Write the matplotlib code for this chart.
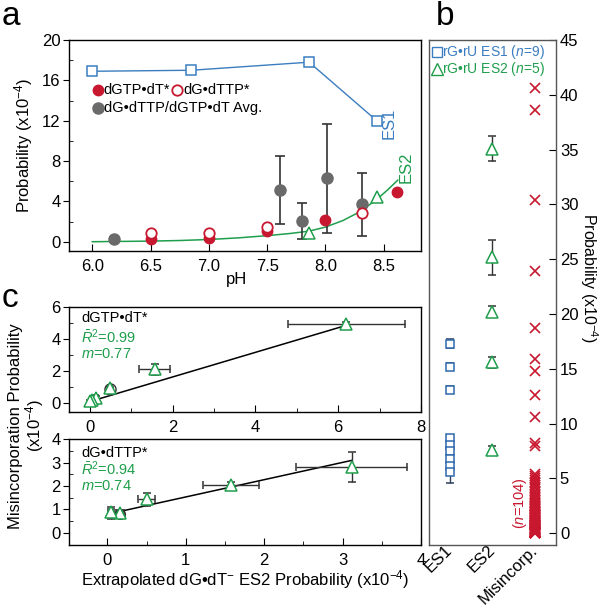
import matplotlib
matplotlib.use("Agg")
import matplotlib.pyplot as plt
import numpy as np

plt.rcParams['font.family'] = ['Liberation Sans', 'DejaVu Sans']
plt.rcParams['mathtext.fontset'] = 'custom'
plt.rcParams['mathtext.rm'] = 'Liberation Sans'
plt.rcParams['mathtext.it'] = 'Liberation Sans:italic'
plt.rcParams['mathtext.bf'] = 'Liberation Sans:bold'
plt.rcParams['axes.linewidth'] = 1.0

BLUE = '#3b7dc0'
GREEN = '#1f9e4c'
RED = '#c8182f'
GREY = '#6a6a6a'
DARK = '#333333'

# ---------------- panel a data ----------------
es1_ph = [6.0, 6.85, 7.86, 8.44]
es1_p = [16.9, 17.0, 17.8, 12.0]
es2_ph = [7.86, 8.44]
es2_p = [0.9, 4.4]
curve_ph = [6.0, 6.25, 6.5, 6.75, 7.0, 7.25, 7.5, 7.7, 7.86, 8.0, 8.15, 8.3, 8.44, 8.53, 8.62]
curve_p = [0.0, 0.03, 0.06, 0.12, 0.22, 0.38, 0.6, 0.82, 1.05, 1.45, 2.1, 3.0, 4.2, 5.1, 6.1]
dgtp_ph = [6.5, 7.0, 7.5, 8.0, 8.61]
dgtp_p = [0.24, 0.37, 1.06, 2.15, 4.9]
dttp_ph = [6.5, 7.0, 7.5, 8.31]
dttp_p = [0.9, 0.83, 1.43, 2.85]
avg_ph = [6.19, 7.61, 7.80, 8.01, 8.31]
avg_p = [0.24, 5.1, 2.05, 6.3, 3.7]
avg_lo = [0.0, 1.75, 0.27, 0.9, 0.6]
avg_hi = [0.45, 8.5, 3.8, 11.7, 6.8]

# ---------------- panel b data ----------------
b_es1 = [17.3, 15.2, 13.1, 8.7, 8.1, 7.5, 6.8, 6.1, 5.6]
b_es1_err = [0.4, 0.3, 0.3, 0.3, 0.4, 0.4, 0.4, 0.4, 1.0]
b_es2 = [35.1, 25.2, 20.2, 15.6, 7.6]
b_es2_err = [1.1, 1.6, 0.5, 0.5, 0.4]
b_mis = [40.6, 38.6, 30.4, 23.9, 18.7, 15.9, 14.8, 12.6, 10.6, 8.2, 8.0,
         5.4, 5.2, 5.0, 4.9, 4.7, 4.6, 4.4, 4.2, 4.1, 3.9, 3.8, 3.6, 3.5, 3.3,
         3.2, 3.1, 3.0, 2.9, 2.8, 2.7, 2.6, 2.5, 2.45, 2.4, 2.3, 2.25, 2.2, 2.1,
         2.05, 2.0, 1.95, 1.9, 1.85, 1.8, 1.75, 1.7, 1.65, 1.6, 1.55, 1.5, 1.45,
         1.4, 1.35, 1.3, 1.25, 1.2, 1.15, 1.1, 1.05, 1.0, 0.95, 0.9, 0.85, 0.8,
         0.78, 0.75, 0.72, 0.7, 0.65, 0.62, 0.6, 0.55, 0.52, 0.5, 0.48, 0.45,
         0.42, 0.4, 0.38, 0.35, 0.32, 0.3, 0.28, 0.25, 0.22, 0.2, 0.18, 0.16,
         0.15, 0.13, 0.12, 0.1, 0.09, 0.08, 0.07, 0.06, 0.05, 0.04, 0.03, 0.03,
         0.02, 0.02, 0.01]
b_cats = ['ES1', 'ES2', 'Misincorp.']

# ---------------- panel c data ----------------
c1_x = [6.2, 1.57, 0.5, 0.15, 0.05, 0.0]
c1_y = [4.95, 2.14, 0.94, 0.3, 0.2, 0.12]
c1_xerr = [[1.4, 0.37, 0.05, 0.05, 0.04, 0.0], [1.42, 0.37, 0.05, 0.05, 0.04, 0.02]]
c1_yerr = [[0.2, 0.4, 0.1, 0.15, 0.15, 0.1], [0.15, 0.3, 0.1, 0.15, 0.15, 0.1]]
c1_fit = [0.77, 0.1]
c1_fit_x = [0.0, 6.2]
c2_x = [3.12, 1.58, 0.5, 0.16, 0.05]
c2_y = [2.8, 2.05, 1.43, 0.83, 0.88]
c2_xerr = [[0.71, 0.36, 0.11, 0.05, 0.04], [0.7, 0.35, 0.11, 0.05, 0.04]]
c2_yerr = [[0.65, 0.1, 0.28, 0.2, 0.28], [0.67, 0.1, 0.26, 0.15, 0.22]]
c2_fit = [0.74, 0.79]
c2_fit_x = [0.1, 3.12]

fig = plt.figure(figsize=(6.0, 6.07), dpi=100)

FS = 12

# ================= panel a =================
axa = fig.add_axes([0.115, 0.5865, 0.5867, 0.3476])
axa.plot(curve_ph, curve_p, color=GREEN, lw=1.1, zorder=2)
axa.plot(es1_ph, es1_p, color=BLUE, lw=1.0, marker='s', ms=7, mfc='white', mec=BLUE, mew=1.1, zorder=3)
axa.plot(es2_ph, es2_p, ls='none', marker='^', ms=9, mfc='white', mec=GREEN, mew=1.1, zorder=5)
avg_err = [np.array(avg_p) - np.array(avg_lo), np.array(avg_hi) - np.array(avg_p)]
axa.errorbar(avg_ph, avg_p, yerr=avg_err, fmt='o', ms=8, color=GREY, ecolor=DARK, elinewidth=1.2, capsize=3.5, capthick=1.2, zorder=3)
axa.plot(dgtp_ph, dgtp_p, ls='none', marker='o', ms=7.5, color=RED, zorder=4)
axa.plot(dttp_ph, dttp_p, ls='none', marker='o', ms=7.5, mfc='white', mec=RED, mew=1.3, zorder=4)
axa.set_xlim(5.8, 8.82)
axa.set_ylim(-0.92, 20)
axa.set_xticks([6.0, 6.5, 7.0, 7.5, 8.0, 8.5])
axa.set_xticklabels(['6.0', '6.5', '7.0', '7.5', '8.0', '8.5'])
axa.set_yticks([0, 4, 8, 12, 16, 20])
axa.set_yticks([2, 6, 10, 14, 18], minor=True)
axa.tick_params(axis='x', direction='in', length=5, labelsize=FS, pad=6)
axa.tick_params(axis='y', which='major', direction='out', length=4, labelsize=FS, pad=2)
axa.tick_params(axis='y', which='minor', direction='in', length=3)
axa.set_xlabel('pH', fontsize=FS, labelpad=-2, x=0.477)
axa.set_ylabel('Probability (x10$^{-4}$)', fontsize=FS, labelpad=5)
axa.text(8.55, 11.75, 'ES1', color=BLUE, rotation=90, ha='center', va='center', fontsize=FS)
axa.text(8.69, 7.4, 'ES2', color=GREEN, rotation=90, ha='center', va='center', fontsize=FS)
# legend
axa.plot([0.083], [0.763], 'o', ms=7.5, color=RED, transform=axa.transAxes, clip_on=False)
axa.text(0.099, 0.763, 'dGTP•dT*', transform=axa.transAxes, ha='left', va='center', fontsize=10.5)
axa.plot([0.308], [0.763], 'o', ms=7.5, mfc='white', mec=RED, mew=1.3, transform=axa.transAxes, clip_on=False)
axa.text(0.324, 0.763, 'dG•dTTP*', transform=axa.transAxes, ha='left', va='center', fontsize=10.5)
axa.plot([0.083], [0.676], 'o', ms=8, color=GREY, transform=axa.transAxes, clip_on=False)
axa.text(0.099, 0.676, 'dG•dTTP/dGTP•dT Avg.', transform=axa.transAxes, ha='left', va='center', fontsize=10.5)

# ================= panel b =================
axb = fig.add_axes([0.715, 0.1021, 0.2112, 0.832])
for s in axb.spines.values():
    s.set_color('#555555')
axb.errorbar(np.full(len(b_es1), 1.0), b_es1, yerr=b_es1_err, fmt='s', ms=6, mfc='white', mec='#2f6aad', mew=1.1,
             ecolor='#2b3f5c', elinewidth=1.0, capsize=3, zorder=3)
axb.errorbar(np.full(len(b_es2), 2.0), b_es2, yerr=b_es2_err, fmt='^', ms=9, mfc='white', mec=GREEN, mew=1.1,
             ecolor=DARK, elinewidth=1.0, capsize=3, zorder=3)
axb.plot(np.full(len(b_mis), 3.0), b_mis, ls='none', marker='x', ms=7.5, mew=1.2, color=RED, zorder=3)
axb.set_xlim(0.5, 3.5)
axb.set_ylim(-1.07, 45)
axb.set_xticks([1, 2, 3])
axb.set_xticklabels(b_cats, rotation=45, ha='right', va='center', rotation_mode='anchor', fontsize=FS)
axb.tick_params(axis='x', length=0, pad=2)
axb.yaxis.tick_right()
axb.set_yticks([0, 5, 10, 15, 20, 25, 30, 35, 40, 45])
axb.tick_params(axis='y', direction='in', length=5, labelsize=FS, pad=3)
fig.text(0.982, 1 - 278 / 607, 'Probability (x10$^{-4}$)', fontsize=11.5, rotation=270, ha='center', va='center')
axb.text(2.66, 2.8, '($n$=104)', color=RED, rotation=90, ha='center', va='center', fontsize=10.5)
axb.plot([0.063], [0.977], 's', ms=6.5, mfc='white', mec=BLUE, mew=1.0, transform=axb.transAxes, clip_on=False)
axb.text(0.105, 0.977, 'rG•rU ES1 ($n$=9)', color=BLUE, transform=axb.transAxes, ha='left', va='center', fontsize=10)
axb.plot([0.063], [0.942], '^', ms=8.5, mfc='white', mec=GREEN, mew=1.0, transform=axb.transAxes, clip_on=False)
axb.text(0.105, 0.942, 'rG•rU ES2 ($n$=5)', color=GREEN, transform=axb.transAxes, ha='left', va='center', fontsize=10)

# ================= panel c (top) =================
axc1 = fig.add_axes([0.115, 0.3218, 0.5867, 0.1730])
fx = np.array(c1_fit_x)
axc1.plot(fx, c1_fit[0] * fx + c1_fit[1], color='black', lw=1.1, zorder=2)
axc1.errorbar(c1_x, c1_y, xerr=c1_xerr, yerr=c1_yerr, fmt='^', ms=9, mfc='white', mec=GREEN, mew=1.1,
              ecolor=DARK, elinewidth=1.0, capsize=3, zorder=3)
axc1.plot([0.5], [0.9], 'o', ms=8, mfc='none', mec=DARK, mew=1.0, zorder=3)
axc1.set_xlim(-0.5, 8)
axc1.set_ylim(-0.53, 6.04)
axc1.set_xticks([0, 2, 4, 6, 8])
axc1.set_xticks([1, 3, 5, 7], minor=True)
axc1.set_yticks([0, 2, 4, 6])
axc1.set_yticks([1, 3, 5], minor=True)
axc1.tick_params(axis='x', which='both', direction='in', labelsize=FS, pad=6)
axc1.tick_params(axis='x', which='major', length=5)
axc1.tick_params(axis='x', which='minor', length=3)
axc1.tick_params(axis='y', which='major', direction='out', length=4, labelsize=FS, pad=2)
axc1.tick_params(axis='y', which='minor', direction='in', length=3)
axc1.text(0.035, 0.89, 'dGTP•dT*', transform=axc1.transAxes, fontsize=10.5, ha='left', va='center')
axc1.text(0.035, 0.71, r'$\bar{R}^{2}$=0.99', transform=axc1.transAxes, fontsize=10.5, color=GREEN, ha='left', va='center')
axc1.text(0.035, 0.55, '$m$=0.77', transform=axc1.transAxes, fontsize=10.5, color=GREEN, ha='left', va='center')

# ================= panel c (bottom) =================
axc2 = fig.add_axes([0.115, 0.1021, 0.5867, 0.1742])
fx = np.array(c2_fit_x)
axc2.plot(fx, c2_fit[0] * fx + c2_fit[1], color='black', lw=1.1, zorder=2)
axc2.errorbar(c2_x, c2_y, xerr=c2_xerr, yerr=c2_yerr, fmt='^', ms=9, mfc='white', mec=GREEN, mew=1.1,
              ecolor=DARK, elinewidth=1.0, capsize=3, zorder=3)
axc2.plot([0.16], [0.8], 'o', ms=7, mfc='none', mec=DARK, mew=1.0, zorder=3)
axc2.set_xlim(-0.49, 4)
axc2.set_ylim(-0.53, 4)
axc2.set_xticks([0, 1, 2, 3, 4])
axc2.set_xticks([0.5, 1.5, 2.5, 3.5], minor=True)
axc2.set_yticks([0, 1, 2, 3, 4])
axc2.set_yticks([0.5, 1.5, 2.5, 3.5], minor=True)
axc2.tick_params(axis='x', which='both', direction='in', labelsize=FS, pad=6)
axc2.tick_params(axis='x', which='major', length=5)
axc2.tick_params(axis='x', which='minor', length=3)
axc2.tick_params(axis='y', which='major', direction='out', length=4, labelsize=FS, pad=2)
axc2.tick_params(axis='y', which='minor', direction='in', length=3)
axc2.text(0.035, 0.875, 'dG•dTTP*', transform=axc2.transAxes, fontsize=10.5, ha='left', va='center')
axc2.text(0.035, 0.715, r'$\bar{R}^{2}$=0.94', transform=axc2.transAxes, fontsize=10.5, color=GREEN, ha='left', va='center')
axc2.text(0.035, 0.56, '$m$=0.74', transform=axc2.transAxes, fontsize=10.5, color=GREEN, ha='left', va='center')
axc2.set_xlabel('Extrapolated dG•dT$^{-}$ ES2 Probability (x10$^{-4}$)', fontsize=FS, labelpad=0)

fig.text(0.045, 0.298, 'Misincorporation Probability\n(x10$^{-4}$)', rotation=90, ha='center', va='center',
         fontsize=FS, multialignment='center', linespacing=1.0)

# panel letters
fig.text(0.003, 1 - 25 / 607, 'a', fontsize=24, va='baseline', ha='left')
fig.text(0.727, 1 - 25 / 607, 'b', fontsize=24, va='baseline', ha='left')
fig.text(0.003, 1 - 307 / 607, 'c', fontsize=24, va='baseline', ha='left')

fig.savefig('out.png', dpi=100)
